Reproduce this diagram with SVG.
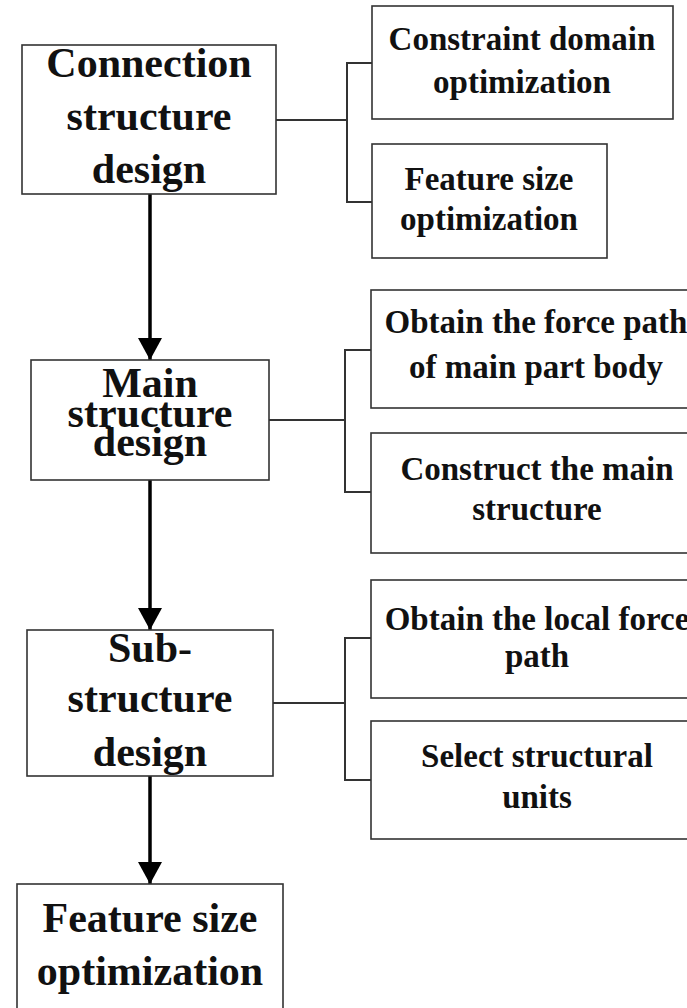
<svg xmlns="http://www.w3.org/2000/svg" width="687" height="1008" viewBox="0 0 687 1008">
<style>
.box{fill:#fff;stroke:#333;stroke-width:1.6}
.big{font-family:"Liberation Serif","Times New Roman",serif;font-weight:bold;font-size:42px;fill:#111;text-anchor:middle}
.sm{font-family:"Liberation Serif","Times New Roman",serif;font-weight:bold;font-size:33px;fill:#111;text-anchor:middle}
.link{fill:none;stroke:#333;stroke-width:2}
.arrow{fill:none;stroke:#000;stroke-width:3.5}
</style>
<defs>
<marker id="ah" markerUnits="userSpaceOnUse" markerWidth="24" markerHeight="24" viewBox="0 0 24 24" refX="12" refY="22" orient="auto-start-reverse">
<path d="M0,0 L24,0 L12,22 Z" fill="#000" transform="rotate(-90 12 12)"/>
</marker>
<marker id="ahd" markerUnits="userSpaceOnUse" markerWidth="24" markerHeight="24" viewBox="0 0 24 24" refX="22" refY="12" orient="auto">
<path d="M0,0 L22,12 L0,24 Z" fill="#000"/>
</marker>
</defs>
<rect width="687" height="1008" fill="#fff"/>
<g id="connectors">
<line class="arrow" x1="150" y1="194" x2="150" y2="360" marker-end="url(#ahd)"/>
<line class="arrow" x1="150" y1="480" x2="150" y2="630" marker-end="url(#ahd)"/>
<line class="arrow" x1="150" y1="776" x2="150" y2="884" marker-end="url(#ahd)"/>
<path class="link" d="M276,120 H347 M372,63 H347 V202 H372"/>
<path class="link" d="M269,420 H345 M371,350 H345 V492 H371"/>
<path class="link" d="M273,703 H345 M371,638 H345 V780 H371"/>
</g>
<g id="n1">
<rect class="box" x="22" y="45" width="254" height="149"/>
<text class="big" x="149" y="77">Connection</text>
<text class="big" x="149" y="130">structure</text>
<text class="big" x="149" y="183">design</text>
</g>
<g id="n1a">
<rect class="box" x="372" y="6" width="301" height="113"/>
<text class="sm" x="522" y="50">Constraint domain</text>
<text class="sm" x="522" y="93">optimization</text>
</g>
<g id="n1b">
<rect class="box" x="372" y="144" width="235" height="114"/>
<text class="sm" x="489" y="190">Feature size</text>
<text class="sm" x="489" y="230">optimization</text>
</g>
<g id="n2">
<rect class="box" x="31" y="360" width="238" height="120"/>
<text class="big" x="150" y="397">Main</text>
<text class="big" x="150" y="427">structure</text>
<text class="big" x="150" y="456">design</text>
</g>
<g id="n2a">
<rect class="box" x="371" y="290" width="330" height="118"/>
<text class="sm" x="536" y="333">Obtain the force path</text>
<text class="sm" x="536" y="378">of main part body</text>
</g>
<g id="n2b">
<rect class="box" x="371" y="433" width="330" height="120"/>
<text class="sm" x="537" y="480">Construct the main</text>
<text class="sm" x="537" y="520">structure</text>
</g>
<g id="n3">
<rect class="box" x="27" y="630" width="246" height="146"/>
<text class="big" x="150" y="662">Sub-</text>
<text class="big" x="150" y="712">structure</text>
<text class="big" x="150" y="766">design</text>
</g>
<g id="n3a">
<rect class="box" x="371" y="580" width="330" height="118"/>
<text class="sm" x="537" y="630">Obtain the local force</text>
<text class="sm" x="537" y="667">path</text>
</g>
<g id="n3b">
<rect class="box" x="371" y="721" width="330" height="118"/>
<text class="sm" x="537" y="767">Select structural</text>
<text class="sm" x="537" y="808">units</text>
</g>
<g id="n4">
<rect class="box" x="17" y="884" width="266" height="130"/>
<text class="big" x="150" y="932">Feature size</text>
<text class="big" x="150" y="985">optimization</text>
</g>
</svg>
